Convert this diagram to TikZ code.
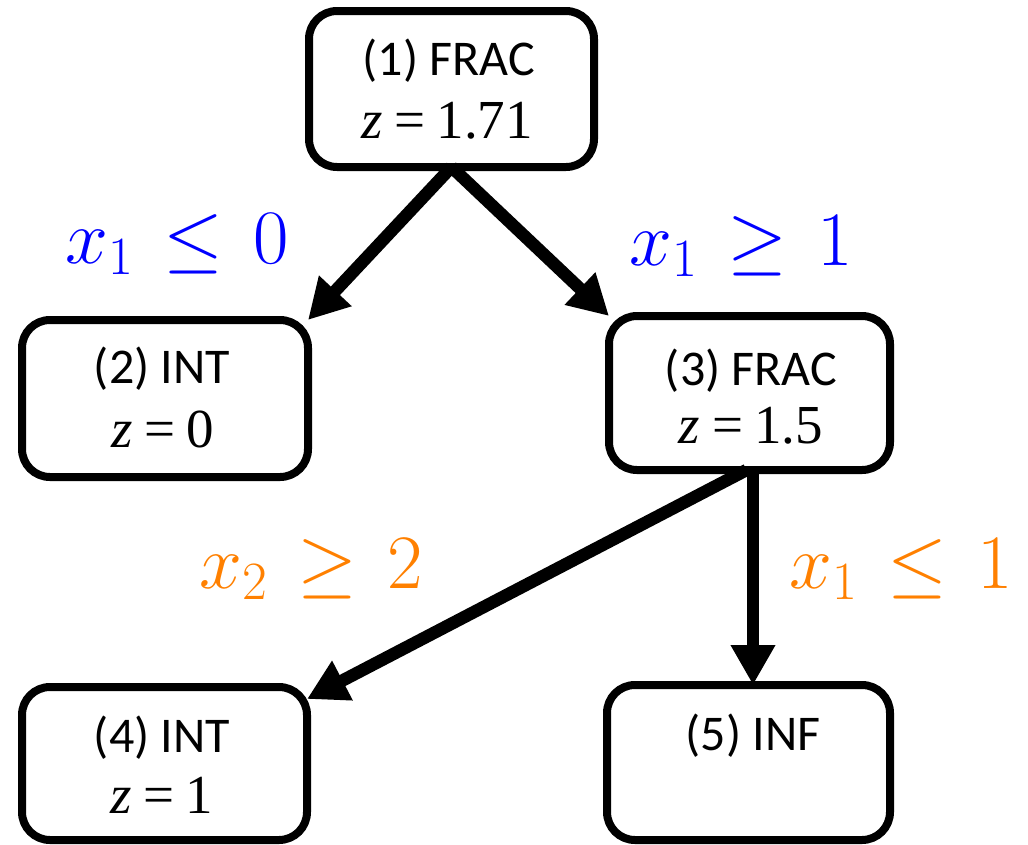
\RequirePackage{fix-cm}
\documentclass[tikz,border=0pt]{standalone}
\usepackage[no-math]{fontspec}
\newfontfamily\calib{Carlito}
\newfontfamily\tms{Liberation Serif}
\usetikzlibrary{arrows.meta}
\definecolor{myblue}{RGB}{0,0,255}
\definecolor{myorange}{RGB}{255,128,0}
\newcommand{\zeq}[1]{\textit{z}\hspace{12pt}=\hspace{11pt}#1}
\newcommand{\rel}[3]{$#1\mskip 2mu#2\mskip 2mu#3$}
\begin{document}
\begin{tikzpicture}[x=1pt,y=-1pt,
  box/.style={draw=black, line width=8pt, rounded corners=28pt, fill=white, outer sep=0pt, inner sep=0pt},
  hd/.style={anchor=base, inner sep=0pt, font=\calib\fontsize{50}{52}\selectfont},
  val/.style={anchor=base, inner sep=0pt, font=\tms\fontsize{55}{57}\selectfont},
  cond/.style={anchor=base, inner sep=0pt, font=\fontsize{77}{80}\selectfont},
  arr/.style={line width=12.5pt, -{Triangle[width=42pt,length=40pt]}}]
\useasboundingbox (0,0) rectangle (1028,844);
% boxes
\node[box, minimum width=285pt, minimum height=156pt] (n1) at (451.5,89) {};
\node[box, minimum width=286pt, minimum height=157pt] (n2) at (165,398.5) {};
\node[box, minimum width=281pt, minimum height=154pt] (n3) at (749.5,393) {};
\node[box, minimum width=285pt, minimum height=153pt] (n4) at (164.5,763.5) {};
\node[box, minimum width=283pt, minimum height=155pt] (n5) at (748.5,762.5) {};
% texts
\node[hd] (t1) at (449,75) {(1) FRAC};
\node[val] (v1) at (447,138) {\zeq{1.71}};
\node[hd] (t2) at (162,383) {(2) INT};
\node[val] (v2) at (163,447) {\zeq{0}};
\node[hd] (t3) at (751,385) {(3) FRAC};
\node[val] (v3) at (751,443) {\zeq{1.5}};
\node[hd] (t4) at (162,752) {(4) INT};
\node[val] (v4) at (162,813) {\zeq{1}};
\node[hd] (t5) at (753,750) {(5) INF};
% conditions
\node[cond, text=myblue] (c1) at (177,263) {\rel{x_1}{\leq}{0}};
\node[cond, text=myblue] (c2) at (741,265) {\rel{x_1}{\geq}{1}};
\node[cond, text=myorange] (c3) at (311,588) {\rel{x_2}{\geq}{2}};
\node[cond, text=myorange] (c4) at (901,588) {\rel{x_1}{\leq}{1}};
% arrows
\coordinate (vx) at (753,0);
\draw[arr] (n1.south) -- (n2.north east);
\draw[arr] (n1.south) -- (n3.north west);
\draw[arr] ([xshift=-3pt]n3.south) -- ([yshift=-12pt]n4.north east);
\draw[arr] (n3.south -| vx) -- (n5.north -| vx);
\end{tikzpicture}
\end{document}
